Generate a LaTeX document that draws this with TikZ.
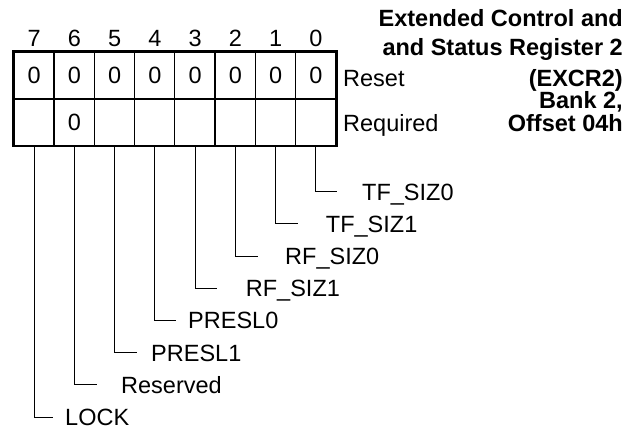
\documentclass[tikz,border=0pt]{standalone}
\usepackage{fontspec}
\setmainfont{Liberation Sans}
\begin{document}
\begin{tikzpicture}[x=1pt,y=-1pt,
  txt/.style={font=\fontsize{23.5}{28}\selectfont, inner sep=0pt},
  cell/.style={txt, minimum width=40.25pt, minimum height=47pt, anchor=center},
  lbl/.style={txt, anchor=base west},
  ttl/.style={font=\fontsize{23.5}{28}\selectfont\bfseries, inner sep=0pt, anchor=base east},
  thickline/.style={line width=2.7pt},
  thinline/.style={line width=1.2pt},
  leader/.style={line width=1pt}]
\useasboundingbox (0,0) rectangle (642,431);
% cells
\foreach \i in {0,...,7}{
  \pgfmathtruncatemacro{\b}{7-\i}
  \pgfmathsetmacro{\cx}{34.125+40.25*\i}
  \node[txt, anchor=base] (n\b) at (\cx,46) {\b};
  \node[cell] (r\b) at (\cx,75.35) {0};
  \ifnum\b=6
    \node[cell] (q\b) at (\cx,122.35) {0};
  \else
    \node[cell] (q\b) at (\cx,122.35) {};
  \fi
}
% grid
\foreach \b in {6,...,0}{
  \draw[thinline] (r\b.north west) -- (q\b.south west);
}
\draw[thickline] (r7.south west) -- (r0.south east);
\draw[thickline] (r7.north west) rectangle (q0.south east);
% row labels
\node[lbl] (reset) at (343,86) {Reset};
\node[lbl] (req) at (343,131.7) {Required};
% title
\node[ttl] (t1) at (623,26) {Extended Control and};
\node[ttl] (t2) at (623,55) {and Status Register 2};
\node[ttl] (t3) at (623,86) {(EXCR2)};
\node[ttl] (t4) at (623,108.5) {Bank 2,};
\node[ttl] (t5) at (623,131.7) {Offset 04h};
% leader ends
\coordinate (e0) at (336.5,191.7);
\coordinate (e1) at (298.3,223.9);
\coordinate (e2) at (257.7,256.1);
\coordinate (e3) at (216.7,288.3);
\coordinate (e4) at (176,320.5);
\coordinate (e5) at (136.7,352.7);
\coordinate (e6) at (97,384.9);
\coordinate (e7) at (53,417.1);
% bit labels
\node[lbl] (l0) at (362,200.1) {TF\_SIZ0};
\node[lbl] (l1) at (325.7,232.3) {TF\_SIZ1};
\node[lbl] (l2) at (285,264.5) {RF\_SIZ0};
\node[lbl] (l3) at (245.7,296.7) {RF\_SIZ1};
\node[lbl] (l4) at (188,328.9) {PRESL0};
\node[lbl] (l5) at (151,361.1) {PRESL1};
\node[lbl] (l6) at (121,393.3) {Reserved};
\node[lbl] (l7) at (65,425.8) {LOCK};
% leaders
\foreach \b in {0,...,7}{
  \draw[leader] ([yshift=-1.35pt]q\b.south) |- (e\b);
}
\end{tikzpicture}
\end{document}
